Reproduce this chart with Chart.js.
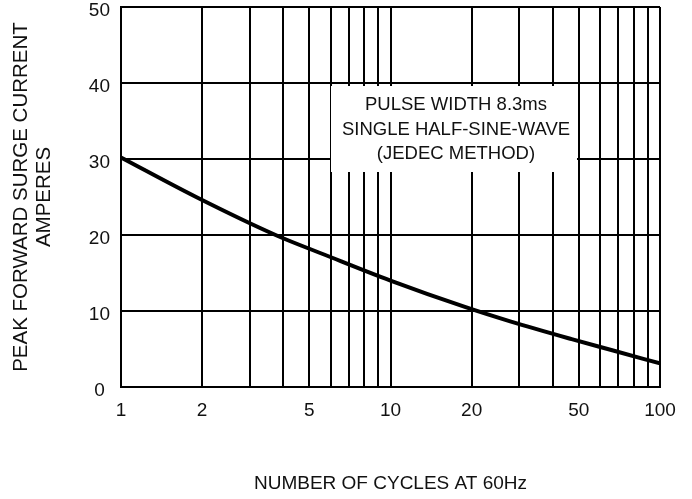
<!DOCTYPE html>
<html><head><meta charset="utf-8">
<script src="https://cdn.jsdelivr.net/npm/chart.js@4.4.1/dist/chart.umd.min.js"></script>
<style>html,body{margin:0;padding:0;background:#fff}#wrap{width:692px;height:499px;position:relative}</style>
</head><body><div id="wrap"><canvas id="c"></canvas></div>
<script>
const cycles = [1, 1.9, 3.8, 5.7, 10, 19, 28, 47, 67, 100];
const current = [30.2, 25.0, 19.9, 17.4, 14.0, 10.5, 8.6, 6.3, 4.8, 3.1];
const xGridValues = [1, 2, 3, 4, 5, 6, 7, 8, 9, 10, 20, 30, 40, 50, 60, 70, 80, 90, 100];
const xTickLabels = [1, 2, 5, 10, 20, 50, 100];
const yTickValues = [0, 10, 20, 30, 40, 50];
const noteLines = ['PULSE WIDTH 8.3ms', 'SINGLE HALF-SINE-WAVE', '(JEDEC METHOD)'];
const xTitle = 'NUMBER OF CYCLES AT 60Hz';
const yTitle = ['PEAK FORWARD SURGE CURRENT', 'AMPERES'];

const FONT = '"Liberation Sans", Arial, sans-serif';

const notePlugin = {
  id: 'note',
  beforeDatasetsDraw(chart) {
    const {ctx, chartArea: a} = chart;
    const left = a.left + 210, top = a.top + 79, w = 246, h = 86;
    ctx.save();
    ctx.fillStyle = '#fff';
    ctx.fillRect(left, top, w, h);
    ctx.fillStyle = '#111';
    ctx.font = '18.5px ' + FONT;
    ctx.textAlign = 'center';
    ctx.textBaseline = 'middle';
    const cx = left + w / 2 + 2;
    noteLines.forEach((t, i) => ctx.fillText(t, cx, top + 19 + i * 24.5));
    ctx.restore();
  }
};

new Chart(document.getElementById('c'), {
  type: 'line',
  data: {
    datasets: [{
      data: cycles.map((x, i) => ({x, y: current[i]})),
      borderColor: '#000',
      borderWidth: 4,
      pointRadius: 0,
      cubicInterpolationMode: 'monotone',
      fill: false
    }]
  },
  options: {
    responsive: true,
    maintainAspectRatio: false,
    animation: false,
    layout: {padding: {top: 7, right: 32, left: 0, bottom: 0}},
    plugins: {legend: {display: false}, tooltip: {enabled: false}},
    scales: {
      x: {
        type: 'logarithmic',
        min: 1, max: 100,
        afterBuildTicks(s) { s.ticks = xGridValues.map(v => ({value: v})); },
        afterFit(s) { s.height = 112; s.paddingLeft = 0; s.paddingRight = 0; },
        grid: {color: '#000', lineWidth: 2, drawTicks: false},
        border: {color: '#000', width: 2},
        ticks: {
          autoSkip: false, maxRotation: 0, padding: 12,
          color: '#111',
          font: {family: FONT, size: 19},
          callback: (v) => xTickLabels.includes(v) ? String(v) : ''
        },
        title: {display: true, text: xTitle, color: '#111', font: {family: FONT, size: 19}, padding: {bottom: 4, top: 0}}
      },
      y: {
        min: 0, max: 50,
        afterBuildTicks(s) { s.ticks = yTickValues.map(v => ({value: v})); },
        afterFit(s) { s.width = 121; s.paddingTop = 0; s.paddingBottom = 0; },
        grid: {color: '#000', lineWidth: 2, drawTicks: false},
        border: {color: '#000', width: 2},
        ticks: {
          padding: 11, labelOffset: 4, crossAlign: 'center',
          color: '#111',
          font: {family: FONT, size: 19}
        },
        title: {display: true, text: yTitle, color: '#111', font: {family: FONT, size: 20.5, lineHeight: 1.1}, padding: {top: 10.5, bottom: 0}}
      }
    }
  },
  plugins: [notePlugin]
});
</script></body></html>
